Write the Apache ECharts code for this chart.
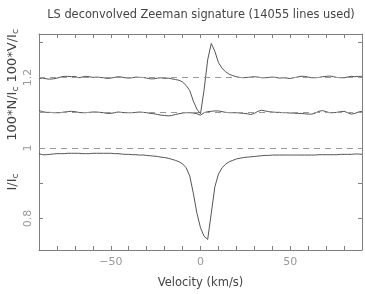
<!DOCTYPE html>
<html><head><meta charset="utf-8">
<script src="https://cdn.jsdelivr.net/npm/echarts@6/dist/echarts.min.js"></script>
<style>html,body{margin:0;padding:0;background:#fff}#c{width:365px;height:294px}</style>
</head><body><div id="c"></div>
<script>
const velocity = [-90,-88,-86,-84,-82,-80,-78,-76,-74,-72,-70,-68,-66,-64,-62,-60,-58,-56,-54,-52,-50,-48,-46,-44,-42,-40,-38,-36,-34,-32,-30,-28,-26,-24,-22,-20,-18,-16,-14,-12,-10,-8,-6,-4,-2,0,2,4,6,8,10,12,14,16,18,20,22,24,26,28,30,32,34,36,38,40,42,44,46,48,50,52,54,56,58,60,62,64,66,68,70,72,74,76,78,80,82,84,86,88,90];
const stokesV = [1.197,1.198,1.196,1.195,1.196,1.198,1.201,1.203,1.203,1.202,1.203,1.199,1.201,1.203,1.202,1.200,1.201,1.200,1.199,1.197,1.198,1.200,1.202,1.201,1.199,1.198,1.199,1.201,1.200,1.200,1.198,1.196,1.196,1.198,1.199,1.197,1.198,1.196,1.194,1.192,1.187,1.177,1.163,1.133,1.110,1.097,1.165,1.250,1.296,1.274,1.242,1.226,1.216,1.209,1.205,1.202,1.200,1.199,1.200,1.201,1.202,1.201,1.199,1.199,1.200,1.201,1.200,1.198,1.199,1.198,1.197,1.199,1.201,1.203,1.203,1.201,1.199,1.199,1.200,1.202,1.203,1.204,1.202,1.200,1.199,1.199,1.201,1.203,1.202,1.203,1.203];
const nullN = [1.106,1.103,1.101,1.101,1.100,1.100,1.100,1.102,1.103,1.104,1.103,1.101,1.100,1.100,1.101,1.102,1.102,1.101,1.100,1.098,1.098,1.100,1.102,1.101,1.100,1.100,1.100,1.101,1.102,1.101,1.100,1.098,1.097,1.095,1.093,1.092,1.091,1.092,1.095,1.097,1.099,1.100,1.100,1.099,1.097,1.093,1.100,1.103,1.104,1.105,1.105,1.103,1.101,1.100,1.100,1.100,1.099,1.098,1.097,1.095,1.098,1.104,1.107,1.105,1.103,1.102,1.101,1.101,1.100,1.100,1.099,1.099,1.098,1.098,1.097,1.096,1.096,1.099,1.104,1.106,1.103,1.100,1.100,1.101,1.103,1.104,1.100,1.096,1.098,1.102,1.104];
const stokesI = [0.984,0.981,0.981,0.982,0.983,0.984,0.984,0.984,0.985,0.985,0.985,0.985,0.984,0.984,0.984,0.985,0.985,0.985,0.985,0.985,0.985,0.984,0.984,0.983,0.982,0.982,0.981,0.981,0.980,0.980,0.979,0.978,0.977,0.976,0.974,0.973,0.971,0.968,0.965,0.961,0.955,0.944,0.921,0.872,0.815,0.774,0.750,0.741,0.815,0.890,0.926,0.944,0.954,0.961,0.965,0.969,0.971,0.973,0.974,0.975,0.976,0.977,0.978,0.979,0.979,0.980,0.980,0.980,0.980,0.980,0.980,0.980,0.980,0.980,0.980,0.980,0.980,0.980,0.981,0.981,0.981,0.981,0.981,0.981,0.982,0.982,0.982,0.982,0.983,0.983,0.982];
const refLevels = [1.0, 1.1, 1.2];
const yTicks = [0.8, 0.9, 1.0, 1.1, 1.2, 1.3];
const yLabels = [0.8, 1.0, 1.2];
const xLabels = [-50, 0, 50];

const pair = arr => velocity.map((v, i) => [v, arr[i]]);
const FONT = 'DejaVu Sans';
const frame = '#7f7f7f';
const lineC = '#555';
const chart = echarts.init(document.getElementById('c'), null, {renderer: 'canvas'});
const xBase = {
  type: 'value', min: -90, max: 90, interval: 10,
  axisLine: {show: true, onZero: false, lineStyle: {color: frame, width: 1}},
  axisTick: {show: true, inside: true, length: 4, lineStyle: {color: frame}},
  splitLine: {show: false}
};
const yBase = {
  type: 'value', min: 0.711, max: 1.323,
  axisLine: {show: true, onZero: false, lineStyle: {color: frame, width: 1}},
  axisTick: {show: true, inside: true, length: 4, customValues: yTicks, lineStyle: {color: frame}},
  splitLine: {show: false}
};
chart.setOption({
  animation: false,
  backgroundColor: '#fff',
  title: {text: 'LS deconvolved Zeeman signature (14055 lines used)', left: 196, top: 5, textAlign: 'center',
    textStyle: {fontFamily: FONT, fontSize: 11.4, fontWeight: 'normal', color: '#444'}},
  grid: {left: 39, right: 2, top: 34, bottom: 43},
  xAxis: [
    Object.assign({}, xBase, {position: 'bottom',
      axisLabel: {show: true, margin: 7, fontFamily: FONT, fontSize: 11, color: '#999',
        formatter: v => xLabels.includes(v) ? String(v).replace('-', '\u2212') : ''},
      name: 'Velocity (km/s)', nameLocation: 'middle', nameGap: 27,
      nameTextStyle: {fontFamily: FONT, fontSize: 11.5, color: '#444'}}),
    Object.assign({}, xBase, {position: 'top', axisLabel: {show: false}})
  ],
  yAxis: [
    Object.assign({}, yBase, {position: 'left',
      axisLabel: {show: true, customValues: yLabels, rotate: 90, margin: 5, fontFamily: FONT, fontSize: 11, color: '#999',
        formatter: v => (Math.abs(v - 1) < 1e-6 ? '1' : String(+v.toFixed(1)))}}),
    Object.assign({}, yBase, {position: 'right', axisLabel: {show: false}})
  ],
  graphic: [
    {type: 'text', x: 13, y: 85, rotation: Math.PI / 2,
      style: {text: '{n|100*N/I}{s|c}{n| 100*V/I}{s|c}', align: 'center', verticalAlign: 'middle',
        rich: {n: {fontFamily: FONT, fontSize: 13, fill: '#444'}, s: {fontFamily: FONT, fontSize: 9, fill: '#444', padding: [6, 0, 0, 0]}}}},
    {type: 'text', x: 13, y: 182, rotation: Math.PI / 2,
      style: {text: '{n|I/I}{s|c}', align: 'center', verticalAlign: 'middle',
        rich: {n: {fontFamily: FONT, fontSize: 13, fill: '#444'}, s: {fontFamily: FONT, fontSize: 9, fill: '#444', padding: [6, 0, 0, 0]}}}}
  ],
  series: [
    {type: 'line', data: pair(stokesI), symbol: 'none', lineStyle: {color: lineC, width: 1}, z: 3,
      markLine: {silent: true, symbol: 'none', label: {show: false},
        lineStyle: {color: '#999', type: [6, 5], width: 1},
        data: refLevels.map(l => ({yAxis: l}))}},
    {type: 'line', data: pair(nullN), symbol: 'none', lineStyle: {color: lineC, width: 1}, z: 3},
    {type: 'line', data: pair(stokesV), symbol: 'none', lineStyle: {color: lineC, width: 1}, z: 3}
  ]
});
</script></body></html>
